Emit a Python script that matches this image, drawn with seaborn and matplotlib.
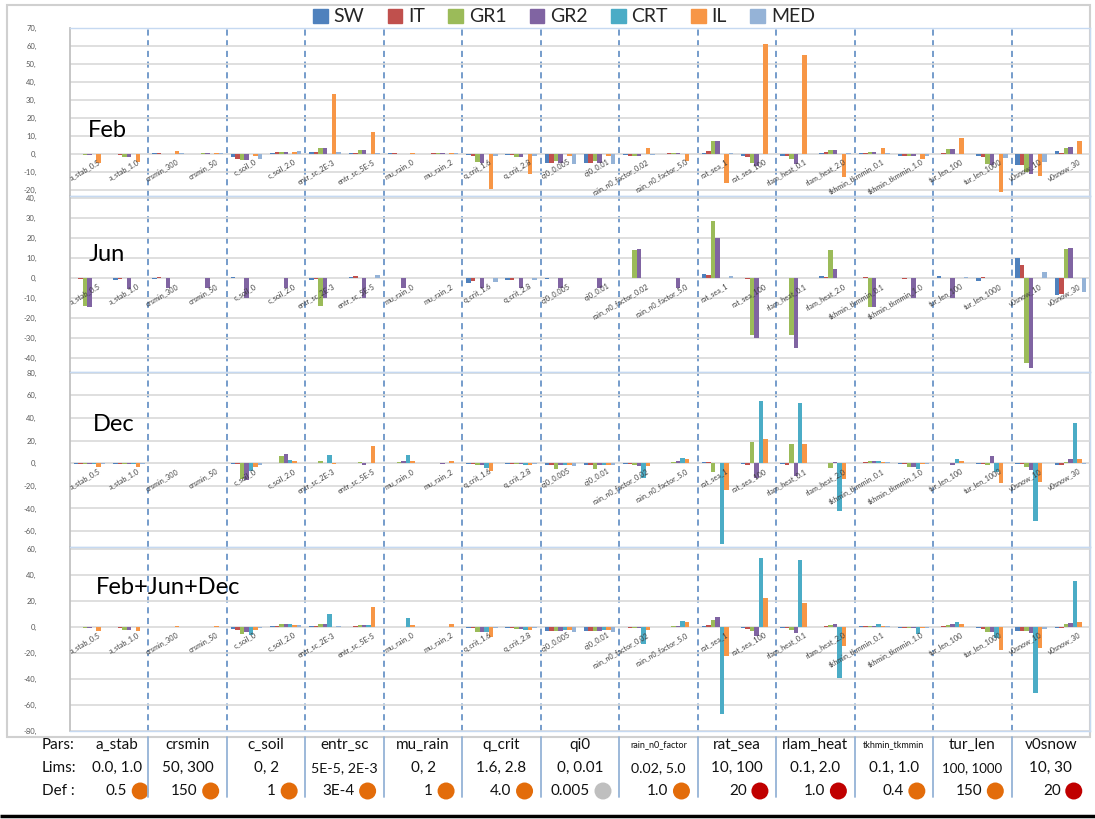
import numpy as np
import pandas as pd
import matplotlib
matplotlib.use("Agg")
import matplotlib.pyplot as plt
import seaborn as sns
from matplotlib.patches import Rectangle, Circle

# ---------------- data ----------------
categories = ["a_stab_0.5", "a_stab_1.0", "crsmin_300", "crsmin_50", "c_soil_0", "c_soil_2.0",
              "entr_sc_2E-3", "entr_sc_5E-5", "mu_rain_0", "mu_rain_2", "q_crit_1.6", "q_crit_2.8",
              "qi0_0.005", "qi0_0.01", "rain_n0_factor_0.02", "rain_n0_factor_5.0", "rat_sea_1",
              "rat_sea_100", "rlam_heat_0.1", "rlam_heat_2.0", "tkhmin_tkmmin_0.1", "tkhmin_tkmmin_1.0",
              "tur_len_100", "tur_len_1000", "v0snow_10", "v0snow_30"]
series = ["SW", "IT", "GR1", "GR2", "CRT", "IL", "MED"]
colors = ["#4F81BD", "#C0504D", "#9BBB59", "#8064A2", "#4BACC6", "#F79646", "#95B3D7"]

feb_sw = [-0.3, 0, 0.2, 0, -2, 0.5, 1, 0.3, 0.3, 0, -0.5, -0.5, -5, -5, -0.5, 0, 0.5, -1.5, -1, 0.3, 0.2, -1, 0, -1.5, -6, 1.5]
feb_it = [-0.3, -0.5, 0.2, 0, -3, 1, 1, 0.5, 0.3, 0.2, -1, -0.5, -5, -5, -1, 0.2, 1.7, -2, -1.5, 0.8, 0.5, -1, 0.5, -2, -6, 0.5]
feb_gr1 = [-0.5, -2, 0, 0.2, -3.5, 1.2, 3, 2, 0, 0.2, -4.8, -2, -4, -4, -1, 0.5, 7.3, -5.2, -3, 2.3, 1, -1, 2.5, -5.6, -10, 3]
feb_gr2 = [-0.5, -2, 0, 0.2, -3.5, 1.2, 3, 2, 0, 0.2, -5, -2, -5, -5, -1.5, 0.5, 7, -7, -5.5, 2.3, 1, -1, 2.7, -6, -11.5, 3.5]
feb_crt = [0] * 26
feb_il = [-5, -4.5, 1.7, 0.3, -1.5, 1, 33.5, 12.3, 0.3, 0.5, -19.6, -11.5, -1, -1, 3, -4, -16, 61.3, 54.7, -13.2, 3, -2.8, 8.9, -21, -12.3, 7.3]
feb_med = [-0.3, 0, 0.3, 0.2, -3, 1.5, 1, 0.5, 0, 0.2, -1, -1, -5.5, -5.5, -0.5, 0, 0.5, 0, 0, 0.2, 0.5, -1, 0, -2.5, -4.5, 0]

jun_sw = [0, -1, -0.5, 0.3, 0.5, 0, -1, 0.5, 0, 0, -2.5, -1, -0.5, 0.3, 0, 0, 2, 0, 0, 1, 0, 0, 1, -1.5, 10, -8.3]
jun_it = [-0.5, -0.5, 0.5, 0, 0.3, 0.3, -0.5, 1, 0.3, 0.3, -1.5, -1, 0, 0, 0, 0, 1.5, -0.3, 0, 0.8, 0.5, -0.5, 0.3, 0.5, 6.7, -8]
jun_gr1 = [-14, 0, 0, 0, 0, 0, -14, 0, 0, 0, 0, 0, 0, 0, 14.2, 0, 28.5, -28.7, -28.7, 14.2, -14.5, 0, 0, 0, -42.5, 14.5]
jun_gr2 = [-14.5, -5.4, -5, -5, -10, -5, -10, -10, -5, 0, -5, -5, -5, -5, 14.8, -5, 20, -30, -35, 4.7, -14.5, -10, -10, 0, -45, 15]
jun_crt = [0] * 26
jun_il = [0] * 26
jun_med = [0, 0, 0, 0, 0.3, 0, 0, 1.7, 0, 0, -2, -1, 0, 0, 0, 0, 1.3, 0, 0, 0, 0, 0, 0.8, 0, 3, -6.7]

dec_sw = [-0.5, -0.5, 0, 0, -1, 0.3, 0.3, 0, 0.3, 0, -0.5, -0.5, -2, -2, -0.5, 0.3, 1, -0.5, -0.5, 0.3, 0.5, -0.5, 0, -0.3, -0.5, -1.5]
dec_it = [-0.5, -0.5, 0, 0, -1, 0.3, 0.3, 0, 0.3, 0, -0.5, -0.5, -2, -2, -0.5, 0.3, 1, -1.5, -1.5, 0.5, 1, -0.5, 0, -0.5, -0.5, -1.5]
dec_gr1 = [-0.5, -0.5, 0, 0, -14.3, 6.6, 1.5, 1, 1, 0, -2, -1, -5.5, -5.5, -2, 1, -7.5, 18.5, 17, -4, 1.5, -3, 0, -2, -3, 1]
dec_gr2 = [-0.5, -0.5, 0, 0, -15, 8.4, 0.3, -1.5, 1.5, -0.5, -1.5, -1, -2, -2, -2.5, 2, 0.3, -12.8, -11.3, 1, 1.5, -3, -2, 6.6, -6, 4]
dec_crt = [-0.3, -0.3, 0, 0, -6.6, 2.5, 7.2, 0.3, 7.2, 0, -4, -2, -2, -1.5, -12.8, 4.5, -71.6, 55, 53, -41.8, 1.5, -5, 4, -7.5, -50.7, 35.8]
dec_il = [-3.6, -3, 0.3, 0.3, -3, 1.5, -1, 15.5, 1.5, 2, -6.9, -2, -2, -2, -2.5, 3.5, -24, 21, 17, -14.3, 1, -0.5, 1.5, -17.3, -16.4, 3.9]
dec_med = [-0.3, -0.3, 0, 0, -1.5, 0.5, 0.3, 0, 0, 0, 0, -0.5, -2.5, -2, 0, 0, 0, 0.3, 0.5, 0, 1, -1, 0, 0, 0.5, -1]

all_sw = [-0.3, -0.3, 0, 0, -1.5, 0.5, 1, 0.3, 0.3, 0, -0.5, -0.5, -3, -3, -0.3, 0.3, 0.5, -1, -0.5, 0.3, 0.5, -0.5, 0.3, -1, -3, -0.5]
all_it = [-0.3, -0.5, 0, 0, -2, 0.5, 0.5, 0.5, 0.3, 0, -1, -0.5, -3, -3, -0.5, 0.3, 1.5, -1.5, -1, 0.5, 0.5, -0.5, 0.5, -1.5, -3, -0.5]
all_gr1 = [-0.5, -2, 0, 0, -5.2, 2, 2.5, 1.5, 0.3, 0, -4, -1.5, -3, -3, -1, 0.5, 5.4, -3, -2, 1.5, 1, -1, 1.5, -3.5, -3, 2]
all_gr2 = [-0.5, -2, 0, 0, -3.5, 2, 2.5, 1.5, 0.3, 0, -4, -1.5, -3, -3, -1, 1, 7.3, -7, -5, 2, 1, -1, 2.5, -3.5, -4.5, 3]
all_crt = [-0.3, -0.3, 0, 0, -6, 2, 9.6, 1.5, 7, 0, -4, -2, -2, -2, -13, 4.7, -66.8, 53.2, 51.4, -39, 2, -5.7, 3.9, -8.3, -50.6, 35.3]
all_il = [-2.9, -3, 1, 0.5, -2, 1.5, 0, 15.3, 1.5, 2.6, -7.8, -2, -2, -2, -2, 3.5, -22.6, 22.3, 18.4, -14.3, 1, -0.5, 2, -17.4, -16.4, 4.2]
all_med = [-0.3, 0, 0.3, 0.2, -1, 1.5, 0.5, 0.3, 0, 0, -0.5, -0.5, -3.5, -3.5, 0, 0, 0, 0, 0, 0, 0.5, -0.5, 0, 0, -1.5, 0]

panel_names = ["Feb", "Jun", "Dec", "Feb+Jun+Dec"]
panel_limits = [(-23.5, 70), (-47, 41.2), (-74, 80.5), (-80, 61.5)]
panel_ticks = [np.arange(-20, 71, 10), np.arange(-40, 41, 10), np.arange(-60, 81, 20), np.arange(-80, 61, 20)]

par_names = ["a_stab", "crsmin", "c_soil", "entr_sc", "mu_rain", "q_crit", "qi0", "rain_n0_factor",
             "rat_sea", "rlam_heat", "tkhmin_tkmmin", "tur_len", "v0snow"]
par_lims = ["0.0, 1.0", "50, 300", "0, 2", "5E-5, 2E-3", "0, 2", "1.6, 2.8", "0, 0.01", "0.02, 5.0",
            "10, 100", "0.1, 2.0", "0.1, 1.0", "100, 1000", "10, 30"]
par_defs = ["0.5", "150", "1", "3E-4", "1", "4.0", "0.005", "1.0", "20", "1.0", "0.4", "150", "20"]
def_colors = ["#E36C0A", "#E36C0A", "#E36C0A", "#E36C0A", "#E36C0A", "#E36C0A", "#BFBFBF", "#E36C0A",
              "#C00000", "#C00000", "#E36C0A", "#E36C0A", "#C00000"]

panels = [
    [feb_sw, feb_it, feb_gr1, feb_gr2, feb_crt, feb_il, feb_med],
    [jun_sw, jun_it, jun_gr1, jun_gr2, jun_crt, jun_il, jun_med],
    [dec_sw, dec_it, dec_gr1, dec_gr2, dec_crt, dec_il, dec_med],
    [all_sw, all_it, all_gr1, all_gr2, all_crt, all_il, all_med],
]

# ---------------- figure ----------------
sns.set_theme(style="white")
plt.rcParams["font.family"] = ["Lato", "DejaVu Sans"]

W, H = 1095, 819
fig = plt.figure(figsize=(W / 100, H / 100), dpi=100)

# overlay for frame/table (pixel coords)
ov = fig.add_axes([0, 0, 1, 1], zorder=-1)
ov.set_xlim(0, W)
ov.set_ylim(H, 0)
ov.axis("off")
ov.add_patch(Rectangle((7, 5), 1083, 732, fill=False, ec="#D0D0D0", lw=1.5))
ov.plot([0, W], [816, 816], color="black", lw=2.5, solid_capstyle="butt")

x_left, x_right = 70, 1090
rows = [(28, 196), (196, 372), (372, 547), (547, 731)]
label_pos = [(0.018, 0.39), (0.018, 0.67), (0.022, 0.70), (0.025, 0.78)]

for k, (vals, (top, bot)) in enumerate(zip(panels, rows)):
    ax = fig.add_axes([x_left / W, 1 - bot / H, (x_right - x_left) / W, (bot - top) / H])
    df = pd.DataFrame({
        "cat": np.repeat([categories], len(series), axis=0).ravel(),
        "series": np.repeat(series, len(categories)),
        "val": np.concatenate(vals),
    })
    sns.barplot(data=df, x="cat", y="val", hue="series", order=categories, hue_order=series,
                palette=colors, saturation=1, width=0.8, errorbar=None, legend=False, ax=ax,
                linewidth=0)
    ax.set_xlim(-0.5, len(categories) - 0.5)
    ax.set_ylim(*panel_limits[k])
    ax.set_yticks(panel_ticks[k])
    ax.set_yticklabels([f"{int(t)}," for t in panel_ticks[k]], fontsize=5.5, color="#595959")
    ax.tick_params(axis="y", length=0, pad=24)
    ax.set_xticks([])
    ax.set_xlabel("")
    ax.set_ylabel("")
    ax.yaxis.grid(True, color="#D9D9D9", lw=1.2)
    ax.set_axisbelow(True)
    for side in ["top", "right", "bottom"]:
        ax.spines[side].set_color("#C6D9F1")
        ax.spines[side].set_linewidth(1)
    ax.spines["left"].set_color("#BFBFBF")
    ax.patch.set_alpha(0)
    for b in np.arange(1.5, 24, 2):
        ax.axvline(b, color="#4F81BD", lw=1.1, ls=(0, (4, 3)), zorder=0.5)
    for i, lab in enumerate(categories):
        ax.annotate(lab, (i + 0.2, 0), xytext=(0, -3), textcoords="offset points",
                    rotation=30, ha="right", va="top", rotation_mode="anchor",
                    fontsize=5.2, color="#404040")
    ax.text(label_pos[k][0], label_pos[k][1], panel_names[k], transform=ax.transAxes,
            fontsize=17, color="black", va="center", ha="left")

# legend
handles = [Rectangle((0, 0), 1, 1, color=c) for c in colors]
fig.legend(handles, series, loc="center", bbox_to_anchor=(0.515, 1 - 17 / H), ncol=7,
           frameon=False, fontsize=14, handlelength=0.75, handleheight=0.75,
           handletextpad=0.3, columnspacing=1.2, labelcolor="#262626")

# table
gw = (x_right - x_left) / 13
for b in range(1, 13):
    xb = x_left + gw * b
    ov.plot([xb, xb], [737, 797], color="#95B3D7", lw=1.3)
row_y = [745, 768, 791]
for ry, rl in zip(row_y, ["Pars:", "Lims:", "Def :"]):
    ov.text(42, ry, rl, fontsize=11, ha="left", va="center", color="#111111")
for g in range(13):
    cx = x_left + gw * (g + 0.5)
    if g == 0:
        cx += 8
    name_fs = 6.5 if len(par_names[g]) > 10 else 11
    ov.text(cx, row_y[0], par_names[g], fontsize=name_fs, ha="center", va="center", color="#111111")
    lim_fs = 9.5 if par_lims[g].startswith("100") else (10.3 if len(par_lims[g]) > 8 else 11)
    ov.text(cx, row_y[1], par_lims[g], fontsize=lim_fs, ha="center", va="center", color="#111111")
    ov.text(cx + 10, row_y[2], par_defs[g], fontsize=11, ha="right", va="center", color="#111111")
    ov.add_patch(Circle((cx + 23, row_y[2]), 8.5, color=def_colors[g], lw=0))

fig.savefig("out.png", dpi=100)
